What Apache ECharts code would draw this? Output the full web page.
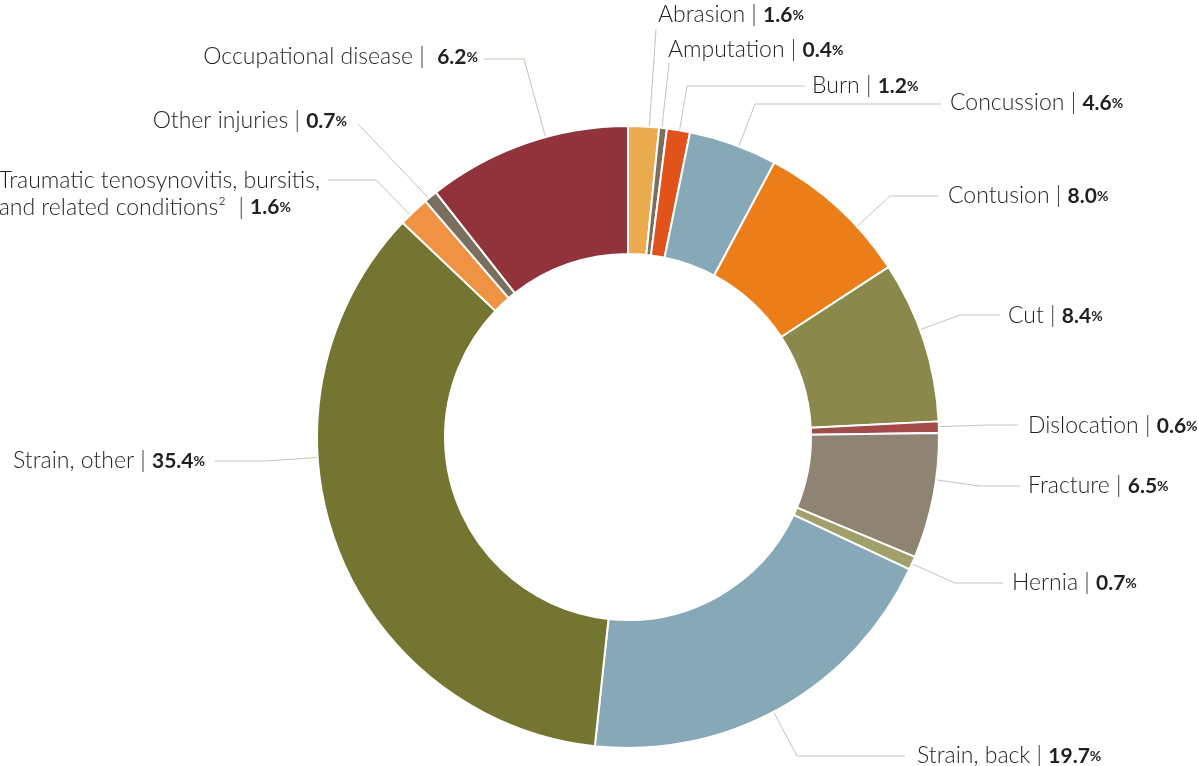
<!DOCTYPE html>
<html><head><meta charset="utf-8">
<script src="https://cdn.jsdelivr.net/npm/echarts@6/dist/echarts.min.js"></script>
<style>html,body{margin:0;padding:0;background:#fff}#c{width:1198px;height:766px}</style>
</head><body><div id="c"></div>
<script>
// ---- data ----
const categories = ['Abrasion','Amputation','Burn','Concussion','Contusion','Cut','Dislocation','Fracture','Hernia',
  'Strain, back','Strain, other','Traumatic tenosynovitis, bursitis,\nand related conditions\u00B2','Other injuries','Occupational disease'];
const labelPercents = ['1.6','0.4','1.2','4.6','8.0','8.4','0.6','6.5','0.7','19.7','35.4','1.6','0.7','6.2'];
// slice sizes as drawn in the picture (occupational disease arc is drawn larger than its printed value)
const sliceShares = [1.6,0.4,1.2,4.6,8.0,8.4,0.6,6.5,0.7,19.7,35.4,1.6,0.7,10.6];
const separators = [' | ',' | ',' | ',' | ',' | ',' | ',' | ',' | ',' | ',' | ',' | ','  | ',' | ',' |  '];

// ---- styles / layout ----
const colors = ['#EAAB4F','#7A6E5F','#E2531B','#87A9B7','#EB7E19','#8A884A','#A34B48','#8F8473','#A1A06A',
  '#87A9B7','#737530','#EF9343','#7A6E5F','#91333B'];
// text anchor [x, y, align]
const labelAnchors = [
  [658, 15, 'left'], [668, 50, 'left'], [812, 86, 'left'], [950, 103, 'left'],
  [948, 196, 'left'], [1008, 316, 'left'], [1028, 426, 'left'], [1028, 486, 'left'],
  [1012, 583, 'left'], [917, 756, 'left'], [205, 461, 'right'], [320, 194, 'right'],
  [347, 121, 'right'], [478, 57, 'right']
];
// leader line end near the text [x, y, horizontal segment length]
const leaderEnds = [
  [656, 29, 0], [669, 63, 0], [805, 86, 118], [941, 104, 186],
  [938, 196, 48], [1000, 315, 40], [1018, 425, 30], [1020, 486, 40],
  [1003, 583, 48], [905, 756, 108], [215, 461, 50], [328, 180, 48],
  [358, 124, 0], [484, 59, 40]
];
const CX = 628, CY = 437, R_IN = 183, R_OUT = 311;
const FONT = 'Lato';
const TEXT = '#231f20';

const total = sliceShares.reduce((a, b) => a + b, 0);
function sectorRange(i) {
  let s = 0;
  for (let k = 0; k < i; k++) s += sliceShares[k];
  return [s / total * 360, (s + sliceShares[i]) / total * 360];
}

const chart = echarts.init(document.getElementById('c'), null, {renderer: 'canvas'});
const data = categories.map((name, i) => ({
  name: name,
  value: sliceShares[i],
  itemStyle: {color: colors[i]}
}));

chart.setOption({
  animation: false,
  backgroundColor: '#ffffff',
  series: [{
    type: 'pie',
    center: [CX, CY],
    radius: [R_IN, R_OUT],
    startAngle: 90,
    clockwise: true,
    avoidLabelOverlap: false,
    itemStyle: {borderColor: '#ffffff', borderWidth: 2},
    emphasis: {disabled: true},
    label: {
      show: true,
      position: 'outside',
      formatter: function (p) {
        const i = p.dataIndex;
        return '{n|' + categories[i] + separators[i] + '}{v|' + labelPercents[i] + '}{s|%}';
      },
      rich: {
        n: {fontFamily: FONT, fontSize: 23, fontWeight: 300, color: TEXT, lineHeight: 27, align: 'left'},
        v: {fontFamily: FONT, fontSize: 21, fontWeight: 'bold', color: TEXT, lineHeight: 27, align: 'left'},
        s: {fontFamily: FONT, fontSize: 14, fontWeight: 'bold', color: TEXT, lineHeight: 27, align: 'left'}
      }
    },
    labelLine: {
      show: true,
      length: 10,
      length2: 10,
      lineStyle: {color: '#C9C1B6', width: 1}
    },
    labelLayout: function (p) {
      const i = p.dataIndex;
      const a = labelAnchors[i];
      const e = leaderEnds[i];
      const toward = a[2] === 'left' ? -1 : 1;
      const p0 = [e[0], e[1]];
      const p1 = [e[0] + toward * e[2], e[1]];
      let th = Math.atan2(p1[0] - CX, -(p1[1] - CY)) * 180 / Math.PI;
      if (th < 0) th += 360;
      const r = sectorRange(i);
      const m = Math.min(1, (r[1] - r[0]) / 3);
      th = Math.max(r[0] + m, Math.min(r[1] - m, th));
      const rad = th * Math.PI / 180;
      const p2 = [CX + R_OUT * Math.sin(rad), CY - R_OUT * Math.cos(rad)];
      return {x: a[0], y: a[1], align: a[2], verticalAlign: 'middle', labelLinePoints: [p2, p1, p0]};
    },
    data: data
  }]
});
</script>
</body></html>
